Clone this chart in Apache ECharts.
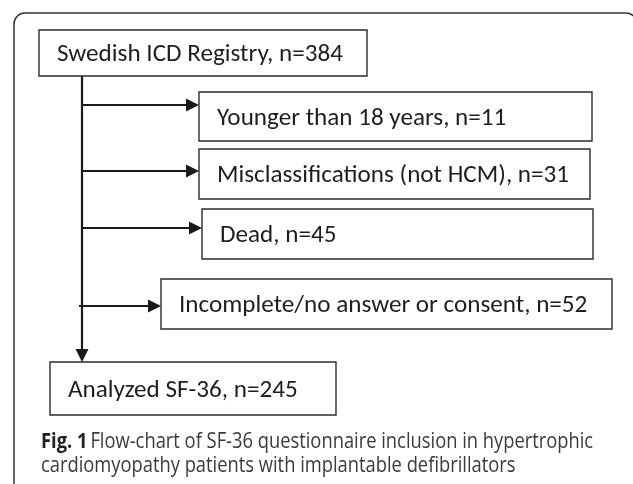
<!DOCTYPE html>
<html>
<head>
<meta charset="utf-8">
<script src="https://cdn.jsdelivr.net/npm/echarts@6/dist/echarts.min.js"></script>
<style>
  html, body { margin: 0; padding: 0; background: #fff; }
  #chart { width: 633px; height: 484px; }
</style>
</head>
<body>
<div id="chart"></div>
<script>
// flow steps (text + counts)
const stepNames = ['Swedish ICD Registry', 'Younger than 18 years', 'Misclassifications (not HCM)',
  'Dead', 'Incomplete/no answer or consent', 'Analyzed SF-36'];
const stepCounts = [384, 11, 31, 45, 52, 245];
const stepExcluded = [false, true, true, true, true, false];
const captionBold = 'Fig. 1';
const captionLines = ['Flow-chart of SF-36 questionnaire inclusion in hypertrophic',
  'cardiomyopathy patients with implantable defibrillators'];

// layout, in pixel units of the hidden axes
const boxRects = [
  [39, 30, 367, 76],
  [199, 92, 592, 141],
  [199, 149, 590, 199],
  [202, 209, 593, 259],
  [161, 279, 612, 329],
  [50, 362, 336, 415]
];
const branchY = [null, 105, 171, 228, 306, null];
const branchStartX = [null, 82, 82, 82, 79, null];
const trunkX = 82;

const boxFont = "Carlito, Lato, 'Open Sans', sans-serif";
const capFont = "'Open Sans', 'Noto Sans', sans-serif";
const capSize = 21;

function textWidth(txt, font) {
  const ctx = document.createElement('canvas').getContext('2d');
  ctx.font = font;
  return ctx.measureText(txt).width;
}
// font size so the first label gets its measured width
const labels = stepNames.map((n, i) => n + ', n=' + stepCounts[i]);
const boxSize = 100 * 286 / textWidth(labels[0], '100px ' + boxFont);
// the caption face is condensed: squeeze a normal face to the measured width
const capW = textWidth(captionBold + ' ', 'bold ' + capSize + 'px ' + capFont) +
  textWidth(captionLines[0], capSize + 'px ' + capFont);
const capScale = 554 / capW;

// edges: trunk first, then one branch per excluded step
const edges = [[trunkX, boxRects[0][3], trunkX, boxRects[5][1]]];
stepExcluded.forEach((ex, i) => {
  if (ex) edges.push([branchStartX[i], branchY[i], boxRects[i][0], branchY[i]]);
});

const chart = echarts.init(document.getElementById('chart'));

chart.setOption({
  animation: false,
  grid: { left: 0, right: 0, top: 0, bottom: 0 },
  xAxis: { type: 'value', min: 0, max: 633, show: false },
  yAxis: { type: 'value', min: 0, max: 484, inverse: true, show: false },
  graphic: [
    {
      type: 'rect',
      shape: { x: 14, y: 13, width: 623, height: 500, r: 11 },
      style: { fill: 'none', stroke: '#333', lineWidth: 1.5 },
      silent: true
    },
    {
      type: 'group',
      x: 41,
      y: 430,
      scaleX: capScale,
      silent: true,
      children: [{
        type: 'text',
        style: {
          x: 0,
          y: 0,
          text: '{b|' + captionBold + '} {n|' + captionLines[0] + '}\n{n|' + captionLines[1] + '}',
          rich: {
            b: { fontFamily: capFont, fontSize: capSize, fontWeight: 'bold', fill: '#222', lineHeight: 24 },
            n: { fontFamily: capFont, fontSize: capSize, fontWeight: 'normal', fill: '#3a3a3a', lineHeight: 24 }
          }
        }
      }]
    }
  ],
  series: [
    {
      type: 'custom',
      name: 'arrows',
      coordinateSystem: 'cartesian2d',
      data: edges,
      renderItem: function (params, api) {
        const a = api.coord([api.value(0), api.value(1)]);
        const b = api.coord([api.value(2), api.value(3)]);
        const dx = b[0] - a[0], dy = b[1] - a[1];
        const len = Math.sqrt(dx * dx + dy * dy);
        const ux = dx / len, uy = dy / len;
        const hl = 13, hw = 6.5;
        const base = [b[0] - ux * hl, b[1] - uy * hl];
        return {
          type: 'group',
          children: [
            {
              type: 'line',
              shape: { x1: a[0], y1: a[1], x2: base[0], y2: base[1] },
              style: { stroke: '#1a1a1a', lineWidth: 2.2 }
            },
            {
              type: 'polygon',
              shape: { points: [b, [base[0] - uy * hw, base[1] + ux * hw], [base[0] + uy * hw, base[1] - ux * hw]] },
              style: { fill: '#1a1a1a' }
            }
          ]
        };
      }
    },
    {
      type: 'custom',
      name: 'steps',
      coordinateSystem: 'cartesian2d',
      data: boxRects.map((r, i) => [r[0], r[1], r[2], r[3], i]),
      renderItem: function (params, api) {
        const p0 = api.coord([api.value(0), api.value(1)]);
        const p1 = api.coord([api.value(2), api.value(3)]);
        const i = api.value(4);
        return {
          type: 'group',
          children: [
            {
              type: 'rect',
              shape: { x: p0[0], y: p0[1], width: p1[0] - p0[0], height: p1[1] - p0[1] },
              style: { fill: '#fff', stroke: '#2b2b2b', lineWidth: 1.4 }
            },
            {
              type: 'text',
              style: {
                x: p0[0] + 18,
                y: (p0[1] + p1[1]) / 2 + 2,
                text: labels[i],
                fontFamily: boxFont,
                fontSize: boxSize,
                fill: '#1e1e1e',
                align: 'left',
                verticalAlign: 'middle'
              }
            }
          ]
        };
      }
    }
  ]
});
</script>
</body>
</html>
